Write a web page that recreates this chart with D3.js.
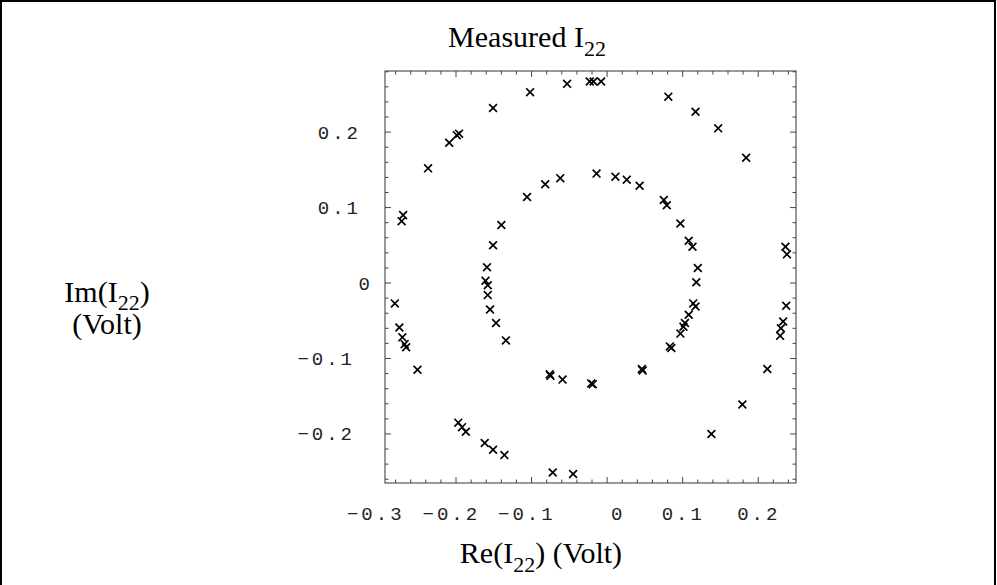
<!DOCTYPE html>
<html lang="en">
<head>
    <meta charset="UTF-8">
    <title>Measured I22</title>
    <script src="https://cdn.jsdelivr.net/npm/d3@7"></script>
<style>
    body {
        margin: 0;
        background-color: white;
    }
    .serif {
        font-family: "Liberation Serif", "Times New Roman", serif;
        font-size: 30px;
        fill: black;
    }
    .tickLabel {
        font-family: "Liberation Mono", "Courier New", monospace;
        font-size: 19px;
        letter-spacing: 3px;
        fill: #222;
    }
</style>
</head>
<body>
<svg id="chart" width="997" height="585"></svg>

<script>
// measured points, real part (x) and imaginary part (y), in volts
const reValues = [
    -0.209, -0.199, -0.196, -0.151, -0.102, -0.053, -0.023, -0.018, -0.008, 0.081,
    0.117, 0.147, -0.237, 0.184, -0.270, -0.272, 0.236, 0.238, 0.237, 0.233,
    0.230, 0.229, 0.212, 0.179, 0.138, -0.281, -0.275, -0.271, -0.268, -0.266,
    -0.251, -0.197, -0.192, -0.187, -0.162, -0.151, -0.136, -0.072, -0.045,
    -0.106, -0.082, -0.062, -0.014, 0.011, 0.026, 0.043, 0.075, 0.079, 0.097,
    -0.140, 0.108, 0.113, -0.151, -0.159, 0.120, -0.161, -0.158, 0.118, -0.158,
    -0.155, -0.147, -0.134, 0.114, 0.117, 0.108, 0.103, 0.101, 0.097, 0.083,
    0.085, 0.046, 0.047, -0.021, -0.019, -0.059, -0.076, -0.075
];
const imValues = [
    0.186, 0.196, 0.198, 0.232, 0.253, 0.264, 0.267, 0.267, 0.267, 0.247,
    0.227, 0.205, 0.152, 0.166, 0.090, 0.082, 0.048, 0.038, -0.030, -0.051,
    -0.060, -0.070, -0.114, -0.161, -0.200, -0.027, -0.059, -0.072, -0.081, -0.085,
    -0.115, -0.185, -0.191, -0.197, -0.212, -0.221, -0.228, -0.251, -0.253,
    0.114, 0.131, 0.139, 0.145, 0.141, 0.137, 0.129, 0.110, 0.103, 0.079,
    0.077, 0.056, 0.048, 0.050, 0.021, 0.020, 0.003, -0.003, 0.001, -0.016,
    -0.035, -0.053, -0.076, -0.027, -0.031, -0.042, -0.053, -0.058, -0.067, -0.084,
    -0.086, -0.114, -0.116, -0.133, -0.134, -0.128, -0.121, -0.123
];
const xTickLabels = [-0.3, -0.2, -0.1, 0, 0.1, 0.2];
const yTickLabels = [-0.2, -0.1, 0, 0.1, 0.2];

const svg = d3.select('#chart');

// frame of the plot
const frameL = 385, frameR = 796, frameT = 71, frameB = 483;
const x = d3.scaleLinear().domain([-0.294, 0.25]).range([frameL, frameR]);
const y = d3.scaleLinear().domain([-0.265, 0.281]).range([frameB, frameT]);

// outer border of the picture
svg.append('rect')
    .attr('x', 1).attr('y', 1)
    .attr('width', 994).attr('height', 600)
    .attr('fill', 'none')
    .attr('stroke', 'black')
    .attr('stroke-width', 2);

svg.append('rect')
    .attr('x', frameL).attr('y', frameT)
    .attr('width', frameR - frameL).attr('height', frameB - frameT)
    .attr('fill', 'none')
    .attr('stroke', '#555')
    .attr('stroke-width', 1.2);

// small ticks every 0.02 on all four sides, pointing inward
const xTicks = d3.range(-0.28, 0.25, 0.02);
const yTicks = d3.range(-0.26, 0.281, 0.02);
const isMajor = v => Math.abs(v * 10 - Math.round(v * 10)) < 1e-6;

function tickLen(v) { return isMajor(v) ? 6 : 3.5; }

const tickG = svg.append('g').attr('stroke', '#444').attr('stroke-width', 1);
xTicks.forEach(v => {
    tickG.append('line').attr('x1', x(v)).attr('x2', x(v))
        .attr('y1', frameB).attr('y2', frameB - tickLen(v));
    tickG.append('line').attr('x1', x(v)).attr('x2', x(v))
        .attr('y1', frameT).attr('y2', frameT + tickLen(v));
});
yTicks.forEach(v => {
    tickG.append('line').attr('y1', y(v)).attr('y2', y(v))
        .attr('x1', frameL).attr('x2', frameL + tickLen(v));
    tickG.append('line').attr('y1', y(v)).attr('y2', y(v))
        .attr('x1', frameR).attr('x2', frameR - tickLen(v));
});

// tick labels - the original places them a little off, depending on length
const fmt = d => d3.format('')(d).replace('-', '\u2212');

svg.selectAll('.xLab').data(xTickLabels).enter().append('text')
    .attr('class', 'tickLabel')
    .attr('x', d => x(d) + 16.5 - 5.3 * fmt(d).length)
    .attr('y', 520)
    .attr('text-anchor', 'middle')
    .text(fmt);

svg.selectAll('.yLab').data(yTickLabels).enter().append('text')
    .attr('class', 'tickLabel')
    .attr('x', d => 379 - 6 * fmt(d).length)
    .attr('y', d => y(d) + 6.5)
    .attr('text-anchor', 'end')
    .text(fmt);

// title and axis labels
const title = svg.append('text').attr('class', 'serif')
    .attr('x', 527).attr('y', 47)
    .attr('text-anchor', 'middle');
title.append('tspan').text('Measured I');
title.append('tspan').attr('font-size', 22).attr('dy', 9).text('22');

const xLabel = svg.append('text').attr('class', 'serif')
    .attr('x', 541).attr('y', 563)
    .attr('text-anchor', 'middle');
xLabel.append('tspan').text('Re(I');
xLabel.append('tspan').attr('font-size', 22).attr('dy', 9).text('22');
xLabel.append('tspan').attr('dy', -9).text(') (Volt)');

const yLabel = svg.append('text').attr('class', 'serif')
    .attr('x', 107).attr('y', 302)
    .attr('text-anchor', 'middle');
yLabel.append('tspan').text('Im(I');
yLabel.append('tspan').attr('font-size', 22).attr('dy', 8).text('22');
yLabel.append('tspan').attr('dy', -8).text(')');

svg.append('text').attr('class', 'serif')
    .attr('x', 107).attr('y', 334)
    .attr('text-anchor', 'middle')
    .text('(Volt)');

// the measured points, drawn as small crosses
const points = reValues.map((r, i) => ({ re: r, im: imValues[i] }));
const s = 3.9;
svg.append('g').selectAll('path').data(points).enter().append('path')
    .attr('d', d => {
        const cx = x(d.re), cy = y(d.im);
        return `M${cx - s},${cy - s}L${cx + s},${cy + s}M${cx - s},${cy + s}L${cx + s},${cy - s}`;
    })
    .attr('stroke', 'black')
    .attr('stroke-width', 1.7)
    .attr('fill', 'none');
</script>
</body>
</html>
